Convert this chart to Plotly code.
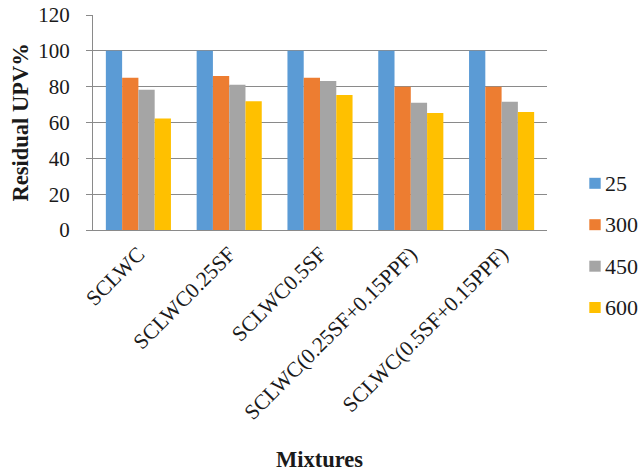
import plotly.graph_objects as go

# Mixtures on the category axis
mixtures = [
    "SCLWC",
    "SCLWC0.25SF",
    "SCLWC0.5SF",
    "SCLWC(0.25SF+0.15PPF)",
    "SCLWC(0.5SF+0.15PPF)",
]

# Exposure temperatures (legend entries)
temperatures = ["25", "300", "450", "600"]

# Residual UPV% per temperature, one value per mixture
upv_25 = [100, 100, 100, 100, 100]
upv_300 = [85, 86, 85, 80, 80]
upv_450 = [78.3, 81.1, 83.2, 71, 71.6]
upv_600 = [62.3, 71.8, 75.4, 65.3, 65.9]

y_ticks = [0, 20, 40, 60, 80, 100, 120]

series = [upv_25, upv_300, upv_450, upv_600]
colors = ["#5B9BD5", "#ED7D31", "#A5A5A5", "#FFC000"]

W, H = 639, 472
ML, MR, MT, MB = 93, 92, 15, 242
PW, PH = W - ML - MR, H - MT - MB
FONT = "'Liberation Serif', 'Times New Roman', serif"
GRID = "#8A8A8A"
INK = "#1a1a1a"


def px_x(px):
    return (px - ML) / PW


def px_y(py):
    return (H - MB - py) / PH


fig = go.Figure()
for name, vals, col in zip(temperatures, series, colors):
    fig.add_trace(go.Bar(
        x=mixtures, y=vals, name=name,
        marker=dict(color=col, line=dict(width=0)),
        showlegend=False,
    ))

# Legend drawn as colored squares with labels on the right
leg_centers = [183.3, 224.7, 266.2, 307.5]
shapes = []
annotations = []
for name, col, cy in zip(temperatures, colors, leg_centers):
    shapes.append(dict(
        type="rect", xref="paper", yref="paper",
        x0=px_x(589.3), x1=px_x(600.7), y0=px_y(cy + 5.5), y1=px_y(cy - 5.5),
        fillcolor=col, line=dict(width=0),
    ))
    annotations.append(dict(
        text=name, xref="paper", yref="paper",
        x=px_x(603), y=px_y(cy), xanchor="left", yanchor="middle",
        showarrow=False, font=dict(family=FONT, size=22, color=INK),
    ))

annotations.append(dict(
    text="<b>Residual UPV%</b>", xref="paper", yref="paper",
    x=px_x(20), y=px_y(122.5), xanchor="center", yanchor="middle",
    textangle=-90, showarrow=False,
    font=dict(family=FONT, size=22.5, color=INK),
))
annotations.append(dict(
    text="<b>Mixtures</b>", xref="paper", yref="paper",
    x=px_x(319), y=px_y(459), xanchor="center", yanchor="middle",
    showarrow=False, font=dict(family=FONT, size=22.5, color=INK),
))

fig.update_layout(
    width=W, height=H,
    margin=dict(l=ML, r=MR, t=MT, b=MB, autoexpand=False),
    paper_bgcolor="white", plot_bgcolor="white",
    barmode="group", bargap=0.283, bargroupgap=0,
    font=dict(family=FONT, size=21, color=INK),
    shapes=shapes, annotations=annotations,
)
fig.update_xaxes(
    type="category", tickangle=-45, showgrid=False,
    showline=True, linecolor=GRID, linewidth=1,
    ticks="", tickfont=dict(family=FONT, size=21.5, color=INK),
    ticklabelstandoff=2, automargin=False,
)
fig.update_yaxes(
    range=[0, 120], tickvals=y_ticks, ticktext=[str(v) for v in y_ticks],
    showgrid=True, gridcolor=GRID, gridwidth=1,
    showline=True, linecolor=GRID, linewidth=1,
    ticks="outside", ticklen=6, tickcolor=GRID,
    tickfont=dict(family=FONT, size=21, color=INK), ticklabelstandoff=12,
    zeroline=False, automargin=False,
)

fig.write_html("out.html")
